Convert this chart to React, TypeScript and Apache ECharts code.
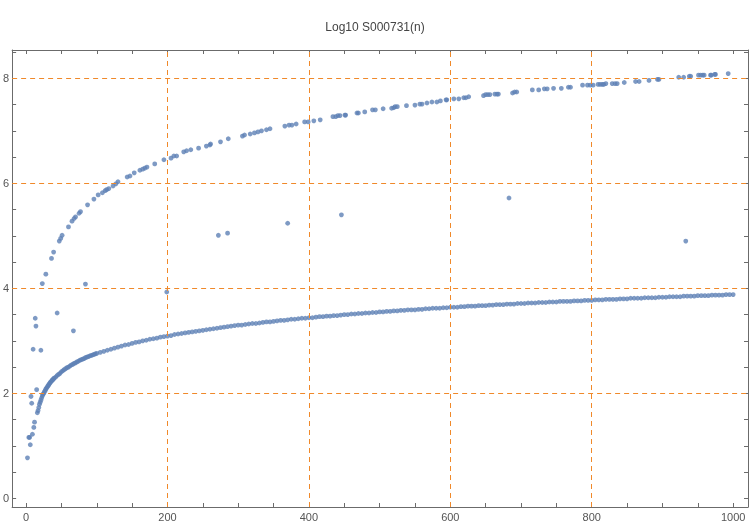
import React, { useEffect, useRef } from "react";
import * as echarts from "echarts";

const TITLE = "Log10 S000731(n)";

const xTickLabels = [0, 200, 400, 600, 800, 1000];
const xTicks = [0, 50, 100, 150, 200, 250, 300, 350, 400, 450, 500, 550, 600, 650, 700, 750, 800, 850, 900, 950, 1000];
const yTickLabels = [0, 2, 4, 6, 8];
const yTicks = [0, 0.5, 1, 1.5, 2, 2.5, 3, 3.5, 4, 4.5, 5, 5.5, 6, 6.5, 7, 7.5, 8, 8.5];
const xGridLines = [200, 400, 600, 800];
const yGridLines = [2, 4, 6, 8];

// Lower dense band [n, value]
const lowerBand: number[][] = [
  [16, 1.63], [17, 1.67], [18, 1.73], [19, 1.79], [20, 1.83], [21, 1.87], [22, 1.91], [23, 1.95], [24, 1.98], [25, 2.0],
  [26, 2.03], [27, 2.05], [28, 2.08], [29, 2.1], [30, 2.12], [31, 2.14], [32, 2.16], [33, 2.18], [34, 2.2], [35, 2.22],
  [36, 2.23], [37, 2.25], [38, 2.26], [39, 2.28], [40, 2.29],
  [42, 2.31], [44, 2.34], [46, 2.36], [48, 2.38], [50, 2.41], [52, 2.43], [54, 2.45], [56, 2.47], [58, 2.49], [60, 2.5],
  [62, 2.52], [64, 2.54], [66, 2.55], [68, 2.57], [70, 2.58], [72, 2.6], [74, 2.61], [76, 2.63], [78, 2.64], [80, 2.65],
  [82, 2.66], [84, 2.68], [86, 2.69], [88, 2.7], [90, 2.71], [92, 2.72], [94, 2.73], [96, 2.74], [98, 2.75], [100, 2.76],
  [105, 2.78], [110, 2.8], [115, 2.82], [120, 2.84], [125, 2.86], [130, 2.88], [135, 2.9], [140, 2.92], [145, 2.93], [150, 2.95],
  [155, 2.97], [160, 2.98], [165, 3.0], [170, 3.01], [175, 3.03], [180, 3.04], [185, 3.05], [190, 3.07], [195, 3.08], [200, 3.09],
  [205, 3.1], [210, 3.12], [215, 3.13], [220, 3.14], [225, 3.15], [230, 3.16], [235, 3.17], [240, 3.18], [245, 3.19], [250, 3.2],
  [255, 3.21], [260, 3.22], [265, 3.23], [270, 3.24], [275, 3.25], [280, 3.26], [285, 3.27], [290, 3.28], [295, 3.29], [300, 3.3],
  [305, 3.3], [310, 3.31], [315, 3.32], [320, 3.33], [325, 3.33], [330, 3.34], [335, 3.35], [340, 3.36], [345, 3.36], [350, 3.37],
  [355, 3.38], [360, 3.39], [365, 3.39], [370, 3.4], [375, 3.41], [380, 3.41], [385, 3.42], [390, 3.43], [395, 3.43], [400, 3.44],
  [405, 3.44], [410, 3.45], [415, 3.46], [420, 3.46], [425, 3.47], [430, 3.47], [435, 3.48], [440, 3.48], [445, 3.49], [450, 3.5],
  [455, 3.5], [460, 3.51], [465, 3.51], [470, 3.52], [475, 3.52], [480, 3.53], [485, 3.53], [490, 3.54], [495, 3.54], [500, 3.55],
  [505, 3.55], [510, 3.56], [515, 3.56], [520, 3.57], [525, 3.57], [530, 3.58], [535, 3.58], [540, 3.59], [545, 3.59], [550, 3.59],
  [555, 3.6], [560, 3.6], [565, 3.61], [570, 3.61], [575, 3.62], [580, 3.62], [585, 3.62], [590, 3.63], [595, 3.63], [600, 3.64],
  [605, 3.64], [610, 3.64], [615, 3.65], [620, 3.65], [625, 3.66], [630, 3.66], [635, 3.66], [640, 3.67], [645, 3.67], [650, 3.67],
  [655, 3.68], [660, 3.68], [665, 3.69], [670, 3.69], [675, 3.69], [680, 3.7], [685, 3.7], [690, 3.7], [695, 3.71], [700, 3.71],
  [705, 3.71], [710, 3.72], [715, 3.72], [720, 3.72], [725, 3.73], [730, 3.73], [735, 3.73], [740, 3.74], [745, 3.74], [750, 3.74],
  [755, 3.75], [760, 3.75], [765, 3.75], [770, 3.75], [775, 3.76], [780, 3.76], [785, 3.76], [790, 3.77], [795, 3.77], [800, 3.77],
  [805, 3.78], [810, 3.78], [815, 3.78], [820, 3.79], [825, 3.79], [830, 3.79], [835, 3.79], [840, 3.8], [845, 3.8], [850, 3.8],
  [855, 3.81], [860, 3.81], [865, 3.81], [870, 3.81], [875, 3.82], [880, 3.82], [885, 3.82], [890, 3.82], [895, 3.83], [900, 3.83],
  [905, 3.83], [910, 3.84], [915, 3.84], [920, 3.84], [925, 3.84], [930, 3.85], [935, 3.85], [940, 3.85], [945, 3.85], [950, 3.86],
  [955, 3.86], [960, 3.86], [965, 3.86], [970, 3.87], [975, 3.87], [980, 3.87], [985, 3.87], [990, 3.88], [995, 3.88], [1000, 3.88],
];

// Upper sparse band [n, value]
const upperBand: number[][] = [
  [23, 4.09], [28, 4.27], [36, 4.57], [39, 4.69], [47, 4.9], [49, 4.95], [51, 5.01], [60, 5.17], [65, 5.28], [68, 5.33],
  [70, 5.36], [75, 5.43], [77, 5.46], [87, 5.59], [96, 5.7], [102, 5.78], [108, 5.82], [112, 5.86], [114, 5.88], [117, 5.9],
  [123, 5.95], [127, 5.99], [130, 6.03], [143, 6.12], [147, 6.14], [153, 6.2], [161, 6.25], [165, 6.27], [168, 6.29], [171, 6.31],
  [182, 6.37], [195, 6.45], [205, 6.48], [209, 6.52], [213, 6.52], [223, 6.6], [227, 6.62], [233, 6.64], [244, 6.67], [255, 6.71],
  [260, 6.73], [261, 6.75], [275, 6.79], [286, 6.85], [306, 6.9], [309, 6.92], [317, 6.94], [323, 6.96], [328, 6.98], [333, 7.0],
  [340, 7.02], [345, 7.04], [366, 7.09], [372, 7.11], [376, 7.11], [382, 7.13], [394, 7.17], [399, 7.17], [407, 7.19], [416, 7.21],
  [434, 7.27], [438, 7.27], [441, 7.29], [444, 7.29], [451, 7.3], [452, 7.3], [468, 7.34], [470, 7.34], [479, 7.36], [490, 7.4],
  [494, 7.4], [505, 7.42], [517, 7.43], [520, 7.44], [522, 7.46], [525, 7.46], [538, 7.48], [550, 7.49], [557, 7.51], [560, 7.51],
  [567, 7.53], [574, 7.55], [581, 7.55], [586, 7.57], [594, 7.59], [595, 7.59], [605, 7.61], [612, 7.61], [619, 7.63], [622, 7.63],
  [626, 7.65], [647, 7.67], [650, 7.69], [653, 7.69], [656, 7.69], [663, 7.7], [666, 7.7], [668, 7.7], [688, 7.72], [691, 7.74],
  [694, 7.74], [716, 7.78], [725, 7.78], [733, 7.8], [737, 7.8], [746, 7.81], [757, 7.81], [767, 7.83], [770, 7.83], [787, 7.87],
  [794, 7.87], [798, 7.87], [802, 7.87], [809, 7.885], [812, 7.885], [815, 7.885], [817, 7.885], [820, 7.9], [829, 7.9], [833, 7.9],
  [836, 7.9], [846, 7.92], [862, 7.94], [867, 7.94], [881, 7.96], [893, 7.98], [895, 7.98], [923, 8.02], [930, 8.02], [938, 8.04],
  [940, 8.04], [951, 8.06], [954, 8.06], [957, 8.06], [959, 8.06], [968, 8.06], [969, 8.06], [974, 8.075], [975, 8.075], [993, 8.09],
];

// Scattered points off both bands [n, value]
const otherPoints: number[][] = [
  [2, 0.77], [4, 1.16], [5, 1.16], [6, 1.02], [7, 1.94], [8, 1.81], [9, 1.22], [10, 2.84], [11, 1.35], [12, 1.45],
  [13, 3.43], [14, 3.28], [15, 2.07], [21, 2.82], [44, 3.53], [67, 3.19], [84, 4.08], [199, 3.93],
  [272, 5.01], [285, 5.05], [370, 5.24], [446, 5.4], [683, 5.72], [933, 4.9],
];

const POINT_COLOR = "#5E81B5";
const GRID_COLOR = "#F0892A";
const FRAME_COLOR = "#6b6b6b";
const LABEL_COLOR = "#555555";
const FONT = "Liberation Sans, Arial, sans-serif";

export default function App() {
  const ref = useRef<HTMLDivElement>(null);
  useEffect(() => {
    if (!ref.current) return;
    const chart = echarts.init(ref.current, undefined, { renderer: "svg" });
    const axisCommon = {
      type: "value" as const,
      axisLine: { show: true, onZero: false, lineStyle: { color: FRAME_COLOR, width: 1 } },
      splitLine: { show: false },
    };
    const scatterCommon = {
      type: "scatter" as const,
      symbolSize: 4.8,
      itemStyle: { color: POINT_COLOR },
      silent: true,
    };
    const plain = (v: number) => String(v);
    chart.setOption({
      animation: false,
      title: {
        text: TITLE,
        left: "center",
        top: 16,
        textStyle: { fontSize: 12, fontWeight: "normal", color: "#444", fontFamily: FONT },
      },
      grid: { left: 9, right: 2, top: 50, bottom: 18, containLabel: false },
      xAxis: [
        {
          ...axisCommon,
          position: "bottom",
          min: -19.7,
          max: 1021,
          axisTick: { show: true, inside: true, length: 4, customValues: xTicks, lineStyle: { color: FRAME_COLOR } },
          axisLabel: {
            show: true,
            customValues: xTickLabels,
            formatter: plain,
            color: LABEL_COLOR,
            fontSize: 11,
            margin: 4,
            fontFamily: FONT,
          },
        },
        {
          ...axisCommon,
          position: "top",
          min: -19.7,
          max: 1021,
          axisTick: { show: true, inside: true, length: 4, customValues: xTicks, lineStyle: { color: FRAME_COLOR } },
          axisLabel: { show: false },
        },
      ],
      yAxis: [
        {
          ...axisCommon,
          position: "left",
          min: -0.166,
          max: 8.54,
          axisTick: { show: true, inside: true, length: 4, customValues: yTicks, lineStyle: { color: FRAME_COLOR } },
          axisLabel: {
            show: true,
            customValues: yTickLabels,
            formatter: plain,
            color: LABEL_COLOR,
            fontSize: 11,
            margin: 3,
            fontFamily: FONT,
          },
        },
        {
          ...axisCommon,
          position: "right",
          min: -0.166,
          max: 8.54,
          axisTick: { show: true, inside: true, length: 4, customValues: yTicks, lineStyle: { color: FRAME_COLOR } },
          axisLabel: { show: false },
        },
      ],
      series: [
        {
          type: "line",
          data: [],
          xAxisIndex: 0,
          yAxisIndex: 0,
          markLine: {
            silent: true,
            symbol: ["none", "none"],
            label: { show: false },
            lineStyle: { color: GRID_COLOR, type: [5, 4], width: 1 },
            data: [
              ...xGridLines.map((v) => ({ xAxis: v })),
              ...yGridLines.map((v) => ({ yAxis: v })),
            ],
          },
        },
        { ...scatterCommon, data: lowerBand },
        { ...scatterCommon, data: upperBand },
        { ...scatterCommon, data: otherPoints },
      ],
    });
    return () => chart.dispose();
  }, []);
  return <div ref={ref} style={{ position: "fixed", left: 0, top: 0, width: 750, height: 525 }} />;
}
